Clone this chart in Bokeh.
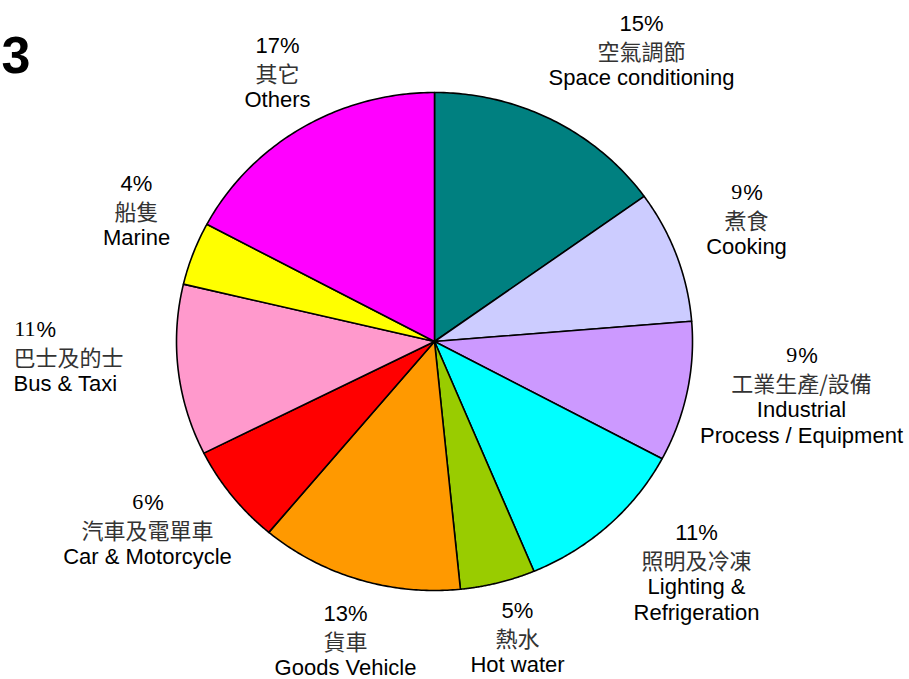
import numpy as np
from bokeh.plotting import figure
from bokeh.models import Range1d, ColumnDataSource
from bokeh.core.properties import value
from bokeh.embed import file_html
from bokeh.resources import INLINE

# ---------------- data ----------------
categories_en = ["Space conditioning", "Cooking", "Industrial\nProcess / Equipment",
                 "Lighting &\nRefrigeration", "Hot water", "Goods Vehicle",
                 "Car & Motorcycle", "Bus & Taxi", "Marine", "Others"]
categories_zh = ["空氣調節", "煮食", "工業生產/設備", "照明及冷凍", "熱水", "貨車",
                 "汽車及電單車", "巴士及的士", "船隻", "其它"]
shares = [15.1, 8.6, 9.1, 10.9, 4.7, 12.7, 6.5, 11.1, 4.1, 17.2]
pct_labels = ["15%", "9%", "9%", "11%", "5%", "13%", "6%", "11%", "4%", "17%"]
serif_digits = [False, True, True, False, False, False, True, True, False, False]
colors = ["#008080", "#CCCCFF", "#CC99FF", "#00FFFF", "#99CC00", "#FF9900",
          "#FF0000", "#FF99CC", "#FFFF00", "#FF00FF"]

# ---------------- layout (image pixel coords) ----------------
W, H = 909, 679
cx, cy = 434, H - 341
rx, ry = 258, 249
label_x = [641, 746, 801, 696, 517, 345, 147, 13, 136, 277]
label_base = [32, 201, 364, 541, 619, 622, 511, 338, 192, 54]
label_align = ["center"] * 7 + ["left"] + ["center"] * 2
line_gap = 26.8
FS = 22
BASE_FIX = 0.41  # renderer baseline correction, in em

p = figure(width=W, height=H, x_range=Range1d(0, W), y_range=Range1d(0, H),
           output_backend="svg", toolbar_location=None, min_border=0)
p.axis.visible = False
p.grid.visible = False
p.outline_line_color = None
p.background_fill_color = "white"
p.border_fill_color = "white"

# ---------------- pie (elliptical wedges) ----------------
total = float(sum(shares))
cum = np.concatenate([[0.0], np.cumsum(shares)]) / total * 2 * np.pi
xs, ys = [], []
for i in range(len(shares)):
    t = np.linspace(cum[i], cum[i + 1], 80)
    xs.append([cx] + list(cx + rx * np.sin(t)) + [cx])
    ys.append([cy] + list(cy + ry * np.cos(t)) + [cy])
src = ColumnDataSource(dict(xs=xs, ys=ys, color=colors))
p.patches("xs", "ys", source=src, fill_color="color", line_color="black",
          line_width=1.6, line_join="round")

# ---------------- labels ----------------
groups = {}
def add(font, align, x, y, t, color="black"):
    groups.setdefault((font, align, color), {"x": [], "y": [], "t": []})
    g = groups[(font, align, color)]
    g["x"].append(x); g["y"].append(H - (y - BASE_FIX * FS)); g["t"].append(t)

for i in range(len(shares)):
    x0, b, al = label_x[i], label_base[i], label_align[i]
    num = pct_labels[i][:-1]
    if serif_digits[i]:
        numw = 0.5 * FS * len(num)
        pw = 0.889 * FS
        if al == "left":
            xs_ = x0 + numw
        else:
            xs_ = x0 - (numw + pw) / 2 + numw
        add("Liberation Serif", "right", xs_, b, num)
        add("Liberation Sans", "left", xs_ + 1, b, "%")
    else:
        add("Liberation Sans", al, x0, b, pct_labels[i])
    add("Noto Sans CJK TC", al, x0, b + line_gap, categories_zh[i], "#333333")
    for k, ln in enumerate(categories_en[i].split("\n")):
        add("Liberation Sans", al, x0, b + line_gap * (2 + k), ln)

for (font, align, color), g in groups.items():
    p.text(x=g["x"], y=g["y"], text=g["t"], text_font=value(font),
           text_font_size=f"{FS}px", text_align=align, text_baseline="alphabetic",
           text_color=color)

# Cropped figure number at top left
p.text(x=[1], y=[H - 76 + BASE_FIX * 52], text=["3"], text_font=value("Liberation Sans"),
       text_font_style="bold", text_font_size="52px", text_align="left",
       text_baseline="alphabetic", text_color="black")

open("out.html", "w").write(file_html(p, INLINE))
